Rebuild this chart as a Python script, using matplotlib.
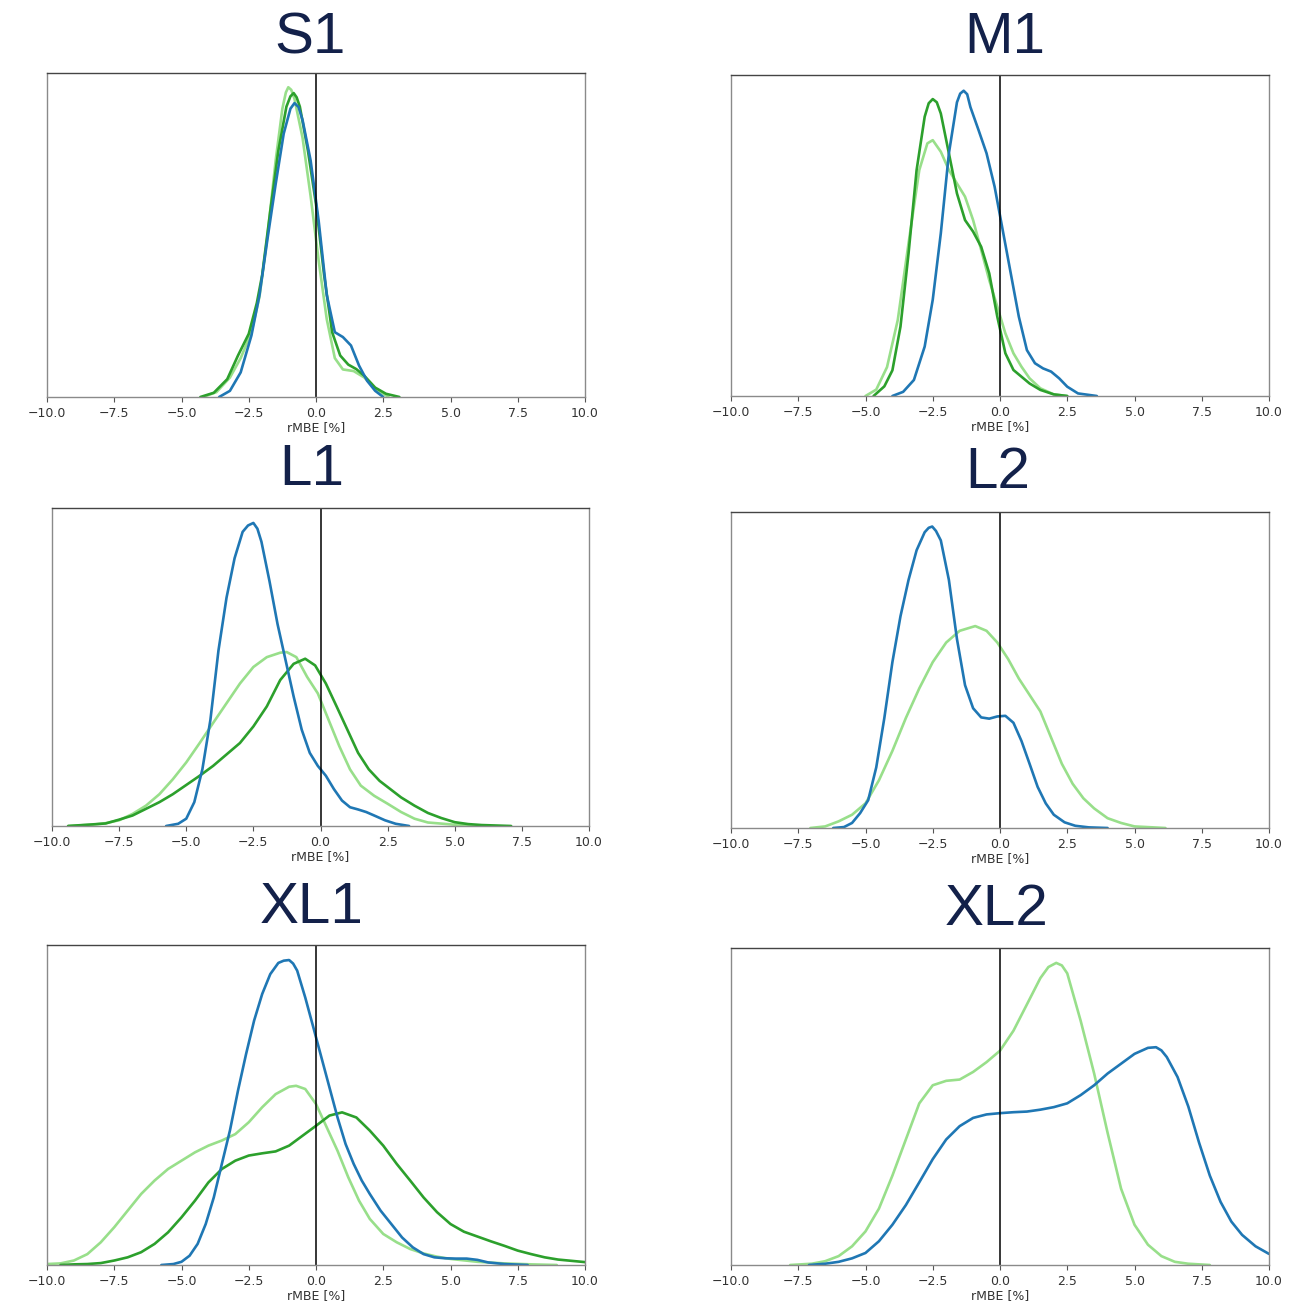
import matplotlib
matplotlib.use("Agg")
import matplotlib.pyplot as plt

BLUE = "#1f77b4"
DARK_GREEN = "#2ca02c"
LIGHT_GREEN = "#98df8a"

xticks = [-10.0, -7.5, -5.0, -2.5, 0.0, 2.5, 5.0, 7.5, 10.0]

# ---- S1 ----
s1_light_x = [-4.2, -3.7, -3.2, -2.8, -2.4, -2.1, -1.8, -1.5, -1.25, -1.12, -1.03, -0.92, -0.8, -0.5, -0.2, 0.1, 0.4, 0.7, 1.0, 1.4, 1.8, 2.2, 2.7]
s1_light_y = [0.0, 0.015, 0.06, 0.12, 0.2, 0.31, 0.5, 0.73, 0.89, 0.94, 0.956, 0.948, 0.92, 0.8, 0.62, 0.42, 0.24, 0.12, 0.085, 0.08, 0.06, 0.025, 0.0]
s1_dark_x = [-4.3, -3.8, -3.3, -2.9, -2.5, -2.2, -2.0, -1.7, -1.4, -1.1, -0.95, -0.83, -0.72, -0.6, -0.3, 0.0, 0.3, 0.6, 0.9, 1.2, 1.5, 1.8, 2.2, 2.6, 3.1]
s1_dark_y = [0.0, 0.013, 0.055, 0.128, 0.195, 0.29, 0.377, 0.574, 0.76, 0.896, 0.928, 0.938, 0.925, 0.896, 0.76, 0.595, 0.377, 0.2, 0.128, 0.1, 0.086, 0.065, 0.029, 0.01, 0.0]
s1_blue_x = [-3.6, -3.2, -2.8, -2.4, -2.1, -1.8, -1.5, -1.2, -0.95, -0.8, -0.65, -0.5, -0.2, 0.1, 0.4, 0.7, 1.0, 1.3, 1.6, 1.9, 2.2, 2.5]
s1_blue_y = [0.0, 0.019, 0.076, 0.19, 0.315, 0.49, 0.657, 0.813, 0.89, 0.907, 0.895, 0.855, 0.73, 0.543, 0.315, 0.2, 0.185, 0.159, 0.097, 0.05, 0.019, 0.0]

# ---- M1 ----
m1_light_x = [-5.0, -4.6, -4.2, -3.8, -3.4, -3.0, -2.7, -2.5, -2.2, -1.9, -1.6, -1.3, -1.0, -0.7, -0.4, -0.1, 0.2, 0.5, 0.8, 1.1, 1.5, 2.0, 2.5]
m1_light_y = [0.0, 0.02, 0.09, 0.237, 0.476, 0.704, 0.787, 0.797, 0.761, 0.704, 0.662, 0.621, 0.548, 0.455, 0.361, 0.278, 0.195, 0.133, 0.091, 0.055, 0.024, 0.005, 0.0]
m1_dark_x = [-4.7, -4.3, -4.0, -3.7, -3.4, -3.1, -2.8, -2.65, -2.5, -2.35, -2.2, -1.9, -1.6, -1.3, -1.0, -0.7, -0.4, -0.1, 0.2, 0.5, 0.8, 1.1, 1.5, 2.0, 2.5]
m1_dark_y = [0.0, 0.03, 0.08, 0.216, 0.444, 0.704, 0.87, 0.912, 0.925, 0.915, 0.88, 0.756, 0.631, 0.548, 0.512, 0.465, 0.382, 0.247, 0.133, 0.081, 0.06, 0.039, 0.019, 0.005, 0.0]
m1_blue_x = [-4.0, -3.6, -3.2, -2.8, -2.5, -2.2, -1.9, -1.6, -1.48, -1.35, -1.22, -1.1, -0.8, -0.5, -0.2, 0.1, 0.4, 0.7, 1.0, 1.3, 1.6, 1.9, 2.2, 2.5, 2.9, 3.6]
m1_blue_y = [0.0, 0.013, 0.05, 0.154, 0.3, 0.507, 0.756, 0.915, 0.942, 0.951, 0.94, 0.9, 0.829, 0.756, 0.652, 0.517, 0.382, 0.247, 0.143, 0.102, 0.086, 0.076, 0.055, 0.029, 0.008, 0.0]

# ---- L1 ----
l1_light_x = [-9.4, -8.5, -8.0, -7.5, -7.0, -6.5, -6.0, -5.5, -5.0, -4.5, -4.0, -3.5, -3.0, -2.5, -2.0, -1.5, -1.26, -0.9, -0.5, -0.1, 0.3, 0.7, 1.1, 1.5, 2.0, 2.5, 3.0, 3.5, 4.0, 5.0, 6.0]
l1_light_y = [0.0, 0.004, 0.009, 0.018, 0.038, 0.064, 0.1, 0.147, 0.2, 0.261, 0.324, 0.386, 0.448, 0.5, 0.531, 0.545, 0.547, 0.531, 0.469, 0.417, 0.334, 0.251, 0.178, 0.127, 0.095, 0.07, 0.044, 0.023, 0.011, 0.004, 0.0]
l1_dark_x = [-9.4, -8.5, -8.0, -7.5, -7.0, -6.5, -6.0, -5.5, -5.0, -4.5, -4.0, -3.5, -3.0, -2.5, -2.0, -1.5, -1.0, -0.57, -0.2, 0.2, 0.6, 1.0, 1.4, 1.8, 2.2, 2.6, 3.0, 3.5, 4.0, 4.5, 5.0, 5.5, 6.0, 7.1]
l1_dark_y = [0.0, 0.005, 0.008, 0.02, 0.033, 0.054, 0.075, 0.1, 0.129, 0.158, 0.189, 0.225, 0.261, 0.313, 0.376, 0.459, 0.51, 0.526, 0.505, 0.448, 0.376, 0.303, 0.23, 0.178, 0.142, 0.116, 0.09, 0.064, 0.041, 0.025, 0.012, 0.006, 0.003, 0.0]
l1_blue_x = [-5.75, -5.3, -5.0, -4.7, -4.4, -4.1, -3.8, -3.5, -3.2, -2.9, -2.7, -2.5, -2.35, -2.2, -1.9, -1.6, -1.3, -1.0, -0.7, -0.4, -0.1, 0.2, 0.5, 0.8, 1.1, 1.4, 1.7, 2.0, 2.4, 2.8, 3.3]
l1_blue_y = [0.0, 0.007, 0.023, 0.075, 0.178, 0.334, 0.552, 0.718, 0.842, 0.925, 0.945, 0.953, 0.935, 0.894, 0.77, 0.635, 0.521, 0.407, 0.303, 0.23, 0.189, 0.158, 0.116, 0.08, 0.059, 0.052, 0.044, 0.033, 0.018, 0.007, 0.0]

# ---- L2 ----
l2_light_x = [-7.05, -6.5, -6.0, -5.5, -5.0, -4.5, -4.0, -3.5, -3.0, -2.5, -2.0, -1.5, -0.92, -0.5, -0.1, 0.3, 0.7, 1.1, 1.5, 1.9, 2.3, 2.7, 3.1, 3.5, 4.0, 4.5, 5.0, 6.15]
l2_light_y = [0.0, 0.005, 0.021, 0.042, 0.078, 0.151, 0.244, 0.348, 0.442, 0.525, 0.587, 0.624, 0.639, 0.624, 0.587, 0.535, 0.473, 0.421, 0.369, 0.286, 0.203, 0.14, 0.094, 0.062, 0.031, 0.016, 0.005, 0.0]
l2_blue_x = [-6.2, -5.8, -5.5, -5.2, -4.9, -4.6, -4.3, -4.0, -3.7, -3.4, -3.1, -2.8, -2.65, -2.52, -2.38, -2.2, -1.9, -1.6, -1.3, -1.0, -0.7, -0.4, -0.1, 0.2, 0.5, 0.8, 1.1, 1.4, 1.7, 2.0, 2.4, 2.8, 3.3, 4.0]
l2_blue_y = [0.0, 0.003, 0.016, 0.047, 0.088, 0.192, 0.348, 0.525, 0.67, 0.785, 0.879, 0.936, 0.95, 0.954, 0.94, 0.91, 0.785, 0.598, 0.452, 0.379, 0.35, 0.346, 0.353, 0.355, 0.333, 0.275, 0.203, 0.13, 0.078, 0.042, 0.018, 0.007, 0.002, 0.0]

# ---- XL1 ----
xl1_light_x = [-10.0, -9.5, -9.0, -8.5, -8.0, -7.5, -7.0, -6.5, -6.0, -5.5, -5.0, -4.5, -4.0, -3.5, -3.0, -2.5, -2.0, -1.5, -1.0, -0.74, -0.4, 0.0, 0.4, 0.8, 1.2, 1.6, 2.0, 2.5, 3.0, 3.5, 4.0, 4.5, 5.0, 6.0, 7.0, 8.0, 8.95]
xl1_light_y = [0.003, 0.005, 0.014, 0.034, 0.071, 0.118, 0.17, 0.222, 0.264, 0.3, 0.326, 0.352, 0.373, 0.389, 0.409, 0.446, 0.493, 0.534, 0.557, 0.56, 0.55, 0.503, 0.43, 0.357, 0.274, 0.201, 0.144, 0.097, 0.071, 0.05, 0.036, 0.026, 0.019, 0.01, 0.005, 0.002, 0.0]
xl1_dark_x = [-9.5, -9.0, -8.5, -8.0, -7.5, -7.0, -6.5, -6.0, -5.5, -5.0, -4.5, -4.0, -3.5, -3.0, -2.5, -2.0, -1.5, -1.0, -0.5, 0.0, 0.5, 0.97, 1.5, 2.0, 2.5, 3.0, 3.5, 4.0, 4.5, 5.0, 5.5, 6.0, 6.5, 7.0, 7.5, 8.0, 8.5, 9.0, 9.5, 10.0]
xl1_dark_y = [0.0, 0.002, 0.003, 0.006, 0.014, 0.024, 0.04, 0.066, 0.102, 0.149, 0.201, 0.258, 0.3, 0.326, 0.342, 0.349, 0.355, 0.373, 0.404, 0.435, 0.467, 0.477, 0.461, 0.42, 0.373, 0.316, 0.264, 0.211, 0.165, 0.128, 0.104, 0.089, 0.074, 0.06, 0.045, 0.034, 0.024, 0.017, 0.013, 0.009]
xl1_blue_x = [-5.75, -5.3, -5.0, -4.7, -4.4, -4.1, -3.8, -3.5, -3.2, -2.9, -2.6, -2.3, -2.0, -1.7, -1.4, -1.2, -1.0, -0.85, -0.7, -0.4, -0.1, 0.2, 0.5, 0.8, 1.1, 1.4, 1.7, 2.0, 2.4, 2.8, 3.2, 3.6, 4.0, 4.4, 4.8, 5.2, 5.6, 6.0, 6.4, 7.0, 7.87]
xl1_blue_y = [0.0, 0.003, 0.01, 0.029, 0.066, 0.128, 0.211, 0.316, 0.42, 0.545, 0.659, 0.764, 0.847, 0.909, 0.944, 0.951, 0.953, 0.942, 0.92, 0.836, 0.743, 0.649, 0.555, 0.461, 0.378, 0.316, 0.264, 0.222, 0.17, 0.128, 0.086, 0.055, 0.034, 0.024, 0.021, 0.02, 0.02, 0.016, 0.008, 0.003, 0.0]

# ---- XL2 ----
xl2_light_x = [-7.8, -7.0, -6.5, -6.0, -5.5, -5.0, -4.5, -4.0, -3.5, -3.0, -2.5, -2.0, -1.5, -1.0, -0.5, 0.0, 0.5, 1.0, 1.5, 1.8, 2.09, 2.3, 2.5, 3.0, 3.5, 4.0, 4.5, 5.0, 5.5, 6.0, 6.5, 7.0, 7.8]
xl2_light_y = [0.0, 0.004, 0.012, 0.028, 0.059, 0.106, 0.178, 0.282, 0.396, 0.51, 0.567, 0.581, 0.585, 0.609, 0.64, 0.676, 0.739, 0.822, 0.905, 0.94, 0.953, 0.945, 0.92, 0.77, 0.604, 0.417, 0.241, 0.127, 0.064, 0.028, 0.01, 0.004, 0.0]
xl2_blue_x = [-7.1, -6.5, -6.0, -5.5, -5.0, -4.5, -4.0, -3.5, -3.0, -2.5, -2.0, -1.5, -1.0, -0.5, 0.0, 0.5, 1.0, 1.5, 2.0, 2.5, 3.0, 3.5, 4.0, 4.5, 5.0, 5.5, 5.8, 6.0, 6.2, 6.6, 7.0, 7.4, 7.8, 8.2, 8.6, 9.0, 9.5, 10.0]
xl2_blue_y = [0.0, 0.004, 0.01, 0.021, 0.038, 0.075, 0.127, 0.189, 0.261, 0.334, 0.396, 0.438, 0.464, 0.475, 0.479, 0.482, 0.484, 0.49, 0.498, 0.51, 0.536, 0.567, 0.604, 0.635, 0.666, 0.685, 0.687, 0.677, 0.656, 0.593, 0.5, 0.386, 0.282, 0.199, 0.137, 0.095, 0.059, 0.035]

panels = [
    # title, axes box in pixels (left, top, right, bottom), title centre, curves
    ("S1", (47, 73, 585, 397), (310, 38),
     [(s1_light_x, s1_light_y, LIGHT_GREEN), (s1_dark_x, s1_dark_y, DARK_GREEN), (s1_blue_x, s1_blue_y, BLUE)]),
    ("M1", (731, 75, 1269, 396), (1005, 38),
     [(m1_light_x, m1_light_y, LIGHT_GREEN), (m1_dark_x, m1_dark_y, DARK_GREEN), (m1_blue_x, m1_blue_y, BLUE)]),
    ("L1", (52, 508, 589, 826), (312, 470),
     [(l1_light_x, l1_light_y, LIGHT_GREEN), (l1_dark_x, l1_dark_y, DARK_GREEN), (l1_blue_x, l1_blue_y, BLUE)]),
    ("L2", (731, 512, 1269, 828), (998, 473),
     [(l2_light_x, l2_light_y, LIGHT_GREEN), (l2_blue_x, l2_blue_y, BLUE)]),
    ("XL1", (47, 945, 585, 1265), (312, 908),
     [(xl1_light_x, xl1_light_y, LIGHT_GREEN), (xl1_dark_x, xl1_dark_y, DARK_GREEN), (xl1_blue_x, xl1_blue_y, BLUE)]),
    ("XL2", (731, 948, 1269, 1265), (997, 910),
     [(xl2_light_x, xl2_light_y, LIGHT_GREEN), (xl2_blue_x, xl2_blue_y, BLUE)]),
]

W, H = 1295, 1302
fig = plt.figure(figsize=(W / 100, H / 100), dpi=100)

for title, (l, t, r, b), (tx, ty), curves in panels:
    ax = fig.add_axes([l / W, 1 - b / H, (r - l) / W, (b - t) / H])
    for xs, ys, col in curves:
        ax.plot(xs, ys, color=col, lw=1.9, solid_joinstyle="round", solid_capstyle="round")
    ax.axvline(0, color="black", lw=1.1)
    ax.set_xlim(-10, 10)
    ax.set_ylim(0, 1)
    ax.set_yticks([])
    ax.set_xticks(xticks)
    ax.set_xticklabels([f"{v:.1f}".replace("-", "\u2212") for v in xticks])
    ax.tick_params(axis="x", labelsize=9, colors="#555555", labelcolor="#333333", length=3.5, width=0.8)
    ax.set_xlabel("rMBE [%]", fontsize=9, color="#333333", labelpad=1)
    for sp in ax.spines.values():
        sp.set_color("#8a8a8a")
        sp.set_linewidth(1.0)
    ax.spines["top"].set_color("#444444")
    fig.text(tx / W, 1 - ty / H, title, ha="center", va="center",
             fontsize=42, color="#13214a", family="Liberation Sans")

fig.savefig("out.png", dpi=100)
